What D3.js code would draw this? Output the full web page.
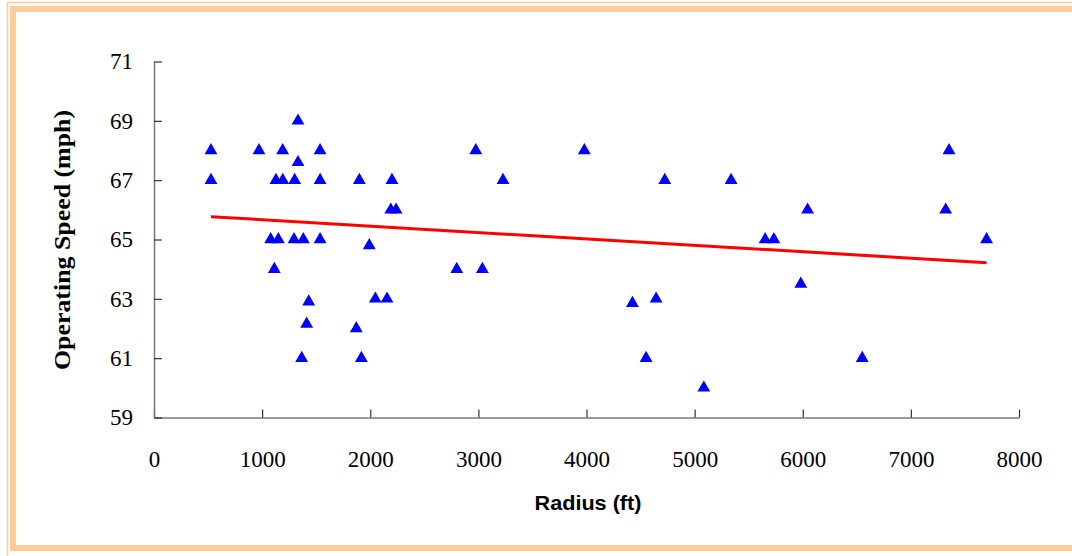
<!DOCTYPE html>
<html>
<head>
<meta charset="utf-8">
<script src="https://cdn.jsdelivr.net/npm/d3@7"></script>
<style>
  body { margin: 0; background: #fff; }
  svg { display: block; }
</style>
</head>
<body>
<div id="chart"></div>
<script>
// data: radius (ft) and operating speed (mph)
const radius = [527, 971, 1190, 1536, 2976, 3980, 7353,
                1332, 1332,
                527, 1128, 1191, 1301, 1536, 1899, 2201, 3228, 4724, 5337,
                2190, 2239, 6045, 7322,
                1079, 1150, 1295, 1381, 1536, 5652, 5733, 7700,
                1991,
                1113, 2800, 3037,
                2047, 2155, 4644, 1431, 4425, 5982, 1412, 1871,
                1366, 1918, 4551, 6550,
                5085];
const speed = [68, 68, 68, 68, 68, 68, 68,
               69, 67.6,
               67, 67, 67, 67, 67, 67, 67, 67, 67, 67,
               66, 66, 66, 66,
               65, 65, 65, 65, 65, 65, 65, 65,
               64.8,
               64, 64, 64,
               63, 63, 63, 62.9, 62.85, 63.5, 62.15, 62,
               61, 61, 61, 61,
               60];
// trend line end points
const trendX = [527, 7700];
const trendY = [65.77, 64.22];

const xTicks = [0, 1000, 2000, 3000, 4000, 5000, 6000, 7000, 8000];
const yTicks = [59, 61, 63, 65, 67, 69, 71];

const width = 1072, height = 556;

const svg = d3.select('#chart')
    .append('svg')
        .attr('width', width)
        .attr('height', height);

// peach frame
svg.append('line')
    .attr('x1', 7.5).attr('y1', 2.5).attr('x2', width).attr('y2', 2.5)
    .attr('stroke', '#ffcc99').attr('stroke-width', 1.5);
svg.append('line')
    .attr('x1', 7.5).attr('y1', 2.5).attr('x2', 7.5).attr('y2', height)
    .attr('stroke', '#ffcc99').attr('stroke-width', 1.5);
svg.append('rect')
    .attr('x', 13).attr('y', 9)
    .attr('width', width + 20).attr('height', 539)
    .attr('fill', 'none')
    .attr('stroke', '#ffcc99').attr('stroke-width', 6);

const xScale = d3.scaleLinear().domain([0, 8000]).range([154, 1019]);
const yScale = d3.scaleLinear().domain([59, 71]).range([417.5, 61.5]);

// axes
const xAxisG = svg.append('g')
    .attr('transform', `translate(0, ${yScale(59)})`)
    .call(d3.axisBottom(xScale).tickValues(xTicks).tickFormat(d3.format('d'))
        .tickSize(-8).tickSizeOuter(0).tickPadding(33));
const yAxisG = svg.append('g')
    .attr('transform', `translate(${xScale(0)}, 0)`)
    .call(d3.axisLeft(yScale).tickValues(yTicks).tickSize(-8).tickSizeOuter(0).tickPadding(21));

[xAxisG, yAxisG].forEach(g => {
    g.select('.domain').attr('stroke', '#777').attr('stroke-width', 1.5);
    g.selectAll('.tick line').attr('stroke', '#333').attr('stroke-width', 1.2);
    g.selectAll('.tick text')
        .attr('font-family', '"Liberation Serif", "Times New Roman", serif')
        .attr('font-size', 23)
        .attr('fill', '#000');
});

// axis titles
svg.append('text')
    .attr('transform', `translate(70, 240) rotate(-90)`)
    .attr('text-anchor', 'middle')
    .attr('font-family', '"Liberation Serif", "Times New Roman", serif')
    .attr('font-weight', 'bold')
    .attr('font-size', 23)
    .attr('textLength', 260)
    .attr('lengthAdjust', 'spacingAndGlyphs')
    .text('Operating Speed (mph)');

svg.append('text')
    .attr('x', 588)
    .attr('y', 510)
    .attr('text-anchor', 'middle')
    .attr('font-family', '"Liberation Sans", Arial, sans-serif')
    .attr('font-weight', 'bold')
    .attr('font-size', 20)
    .attr('textLength', 107)
    .attr('lengthAdjust', 'spacingAndGlyphs')
    .text('Radius (ft)');

// points
const points = radius.map((r, i) => ({r: r, s: speed[i]}));
const tri = d3.symbol().type(d3.symbolTriangle).size(72);
svg.append('g')
    .selectAll('path')
    .data(points)
    .enter()
    .append('path')
        .attr('d', tri)
        .attr('transform', d => `translate(${xScale(d.r)}, ${yScale(d.s)})`)
        .attr('fill', '#0000ff');

// trend line
const trend = trendX.map((x, i) => [x, trendY[i]]);
svg.append('path')
    .datum(trend)
    .attr('d', d3.line().x(d => xScale(d[0])).y(d => yScale(d[1])))
    .attr('fill', 'none')
    .attr('stroke', '#ff0000')
    .attr('stroke-width', 3);
</script>
</body>
</html>
